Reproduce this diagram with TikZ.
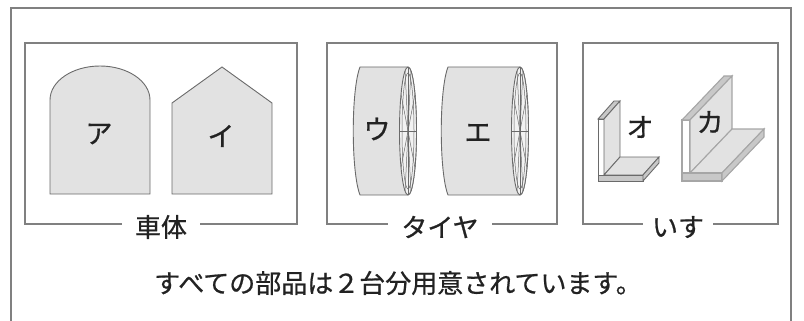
\documentclass[tikz,border=0pt]{standalone}
\usepackage{fontspec}
\newfontfamily\jp[FakeBold=0.7]{Noto Sans CJK JP}
\definecolor{framegray}{HTML}{808080}
\definecolor{partfill}{HTML}{E2E2E2}
\definecolor{partline}{HTML}{6A6A6A}
\definecolor{edgefill}{HTML}{C8C8C8}
\definecolor{ink}{HTML}{222222}
% chair: left x, bottom y, thickness, board top y, seat right x, depth dx, depth rise, line style
\newcommand{\chairL}[8]{%
\draw[#8,fill=white] (#1,#4) rectangle (#1+#3,#2-#3);
\draw[#8,fill=edgefill] (#1,#4)--(#1+#3,#4)--(#1+#3+#6,#4-#7)--(#1+#6,#4-#7)--cycle;
\draw[#8,fill=partfill] (#1+#3,#4)--(#1+#3+#6,#4-#7)--(#1+#3+#6,#2-#3-#7)--(#1+#3,#2-#3)--cycle;
\draw[#8,fill=partfill] (#1+#3,#2-#3)--(#5,#2-#3)--(#5+#6,#2-#3-#7)--(#1+#3+#6,#2-#3-#7)--cycle;
\draw[#8,fill=edgefill] (#1,#2-#3) rectangle (#5,#2);
\draw[#8,fill=edgefill] (#5,#2-#3)--(#5+#6,#2-#3-#7)--(#5+#6,#2-#7)--(#5,#2)--cycle;
}
% tyre: left x, ellipse centre x
\newcommand{\tyre}[2]{%
\draw[part] (#1,67)--(#2,67) arc[start angle=-90,end angle=90,x radius=8.5,y radius=64]
  --(#1,195) .. controls (#1-9,172) and (#1-9,90) .. cycle;
\draw[part,fill=white!55!partfill] (#2,131) ellipse[x radius=8.5,y radius=64];
\draw[spoke] (#2,131) ellipse[x radius=6,y radius=58];
\foreach \a in {0,35,70,90,110,145}
  \draw[spoke] (#2,131) ++(\a:8.5 and 64) -- ++(\a+180:17 and 128);
}
\begin{document}
\begin{tikzpicture}[x=1pt,y=-1pt,
  frame/.style={draw=framegray,line width=1.3pt},
  part/.style={draw=partline,fill=partfill,line width=0.9pt},
  spoke/.style={draw=partline,line width=0.5pt},
  caption/.style={fill=white,inner xsep=13pt,inner ysep=1pt,text=ink,font=\jp\fontsize{26}{26}\selectfont},
  letter/.style={text=ink,font=\jp\fontsize{27}{27}\selectfont}]
\useasboundingbox (0,0) rectangle (804,321);
% outer frame, open at the bottom
\draw[frame] (11,321)--(11,8)--(791,8)--(791,321);
% panels
\draw[frame] (25,43) rectangle (297,224);
\draw[frame] (327,43) rectangle (557,224);
\draw[frame] (583,43) rectangle (778,224);
\node[caption] (lblbody) at (161,227) {車体};
\node[caption] (lbltyre) at (440,227) {タイヤ};
\node[caption,inner xsep=9pt] (lblseat) at (678,227) {いす};
% car bodies
\draw[part] (50,194)--(50,100) arc[start angle=180,end angle=360,x radius=50,y radius=34]--(150,194)--cycle;
\draw[part] (172,194)--(172,103)--(222,67)--(272,103)--(272,194)--cycle;
\node[letter] (a) at (99,134) {ア};
\node[letter] (i) at (221,136) {イ};
% tyres
\tyre{360}{408}
\tyre{448}{520}
\node[letter] (u) at (377,129) {ウ};
\node[letter] (e) at (478,133) {エ};
% chairs
\chairL{598}{181}{6}{119}{643}{16}{18}{draw=partline,line width=0.9pt}
\chairL{682}{181}{8}{120}{722}{42}{44}{draw=gray!70,line width=1.1pt}
\node[letter] (o) at (640,127) {オ};
\node[letter] (ka) at (710,122) {カ};
% note
\node[text=ink,font=\jp\fontsize{26}{26}\selectfont] (note) at (398,283) {すべての部品は２台分用意されています。};
\end{tikzpicture}
\end{document}
